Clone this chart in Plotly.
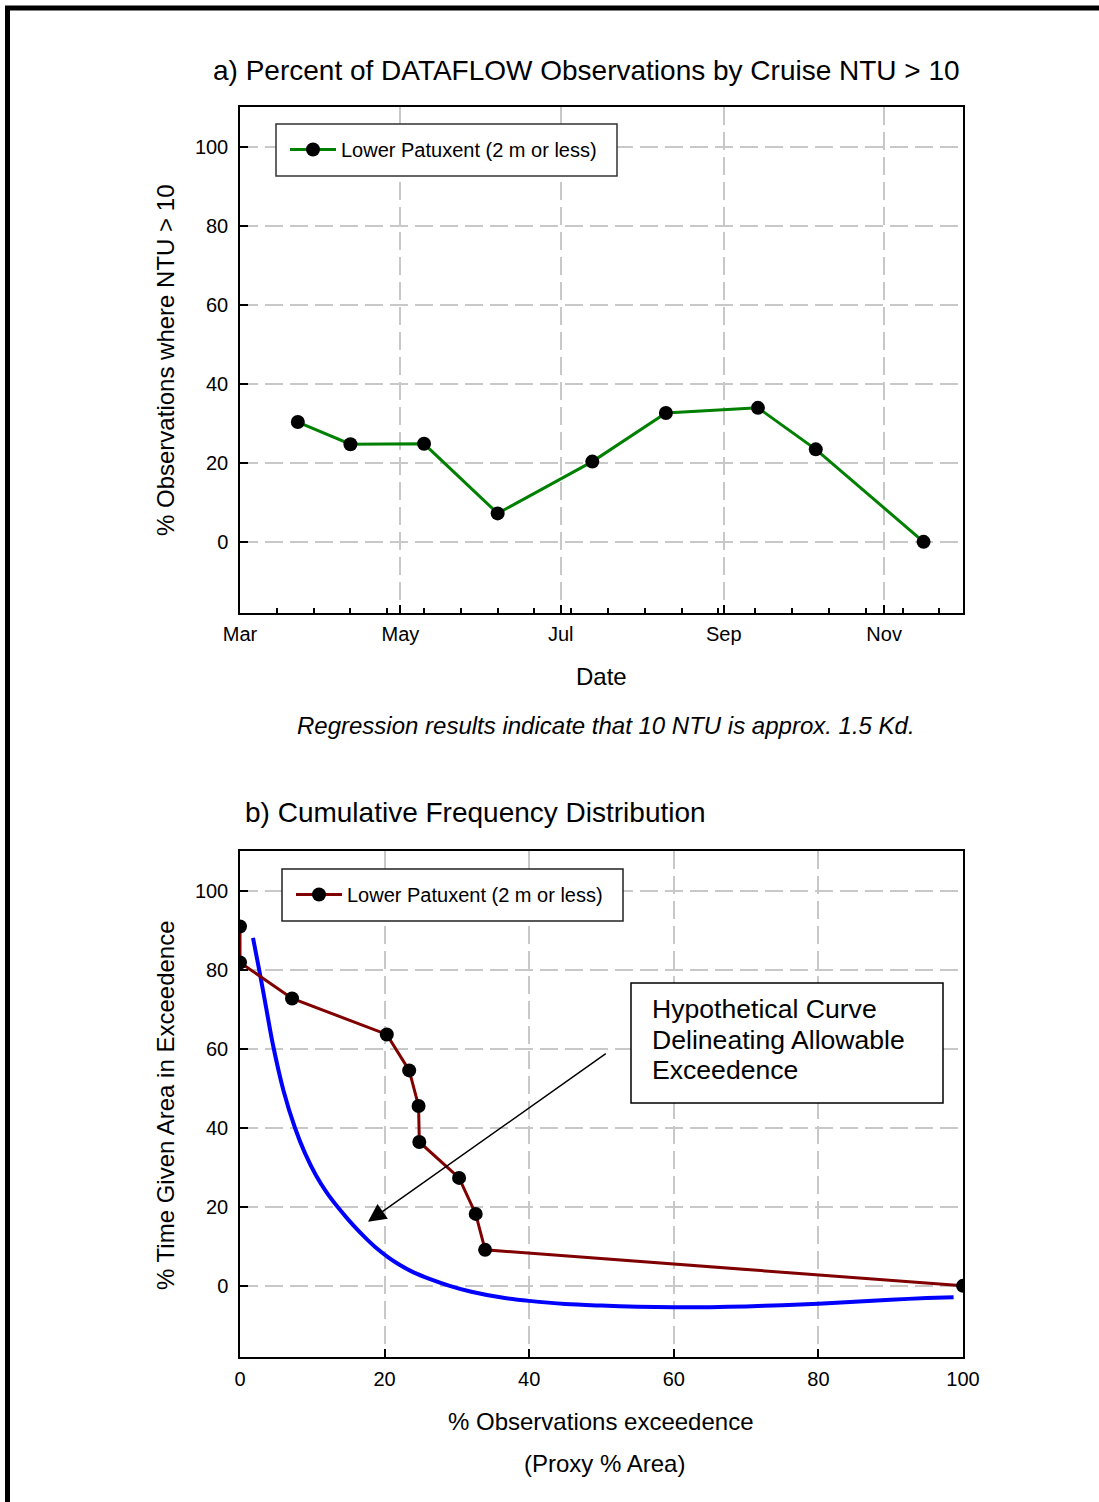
import plotly.graph_objects as go
from plotly.subplots import make_subplots

# ---- panel a: percent of observations per cruise with NTU > 10 ----
cruise_dates = ["2001-03-23", "2001-04-12", "2001-05-10", "2001-06-07", "2001-07-13",
                "2001-08-10", "2001-09-14", "2001-10-06", "2001-11-16"]
pct_ntu_over_10 = [30.3, 24.7, 24.8, 7.2, 20.3, 32.6, 33.9, 23.4, 0.0]

# ---- panel b: cumulative frequency distribution ----
obs_exceedence = [0.0, 0.0, 7.2, 20.3, 23.4, 24.7, 24.8, 30.3, 32.6, 33.9, 100.0]
time_exceedence = [90.9, 81.8, 72.7, 63.6, 54.5, 45.5, 36.4, 27.3, 18.2, 9.1, 0.0]

# hypothetical allowable-exceedence curve
curve_x = [1.8, 2.7, 3.6, 4.5, 6.0, 7.6, 9.0, 10.5, 12.0, 13.8, 15.0, 16.4, 17.6,
           18.9, 20.5, 22.0, 24.0, 26.3, 29.0, 32.0, 36.0, 40.0, 45.0, 50.0, 55.0,
           60.0, 65.0, 70.0, 75.0, 80.0, 85.0, 90.0, 95.0, 98.7]
curve_y = [88.0, 79.5, 70.5, 61.5, 49.5, 40.0, 33.5, 28.0, 23.6, 19.3, 16.7, 13.9, 11.7,
           9.5, 7.2, 5.4, 3.4, 1.7, 0.0, -1.5, -2.9, -3.8, -4.6, -5.0, -5.3,
           -5.4, -5.4, -5.2, -4.9, -4.5, -4.0, -3.5, -3.1, -2.9]

series_name = "Lower Patuxent (2 m or less)"

W, H = 1099, 1502
FONT = "Liberation Sans, Arial, Helvetica, sans-serif"


def px(x):
    return x / W


def py(y):
    return 1 - y / H


fig = make_subplots(rows=2, cols=1)

fig.add_trace(go.Scatter(
    x=cruise_dates, y=pct_ntu_over_10, mode="lines+markers", name=series_name,
    line=dict(color="#008000", width=3),
    marker=dict(color="black", size=14),
    legend="legend",
), row=1, col=1)

fig.add_trace(go.Scatter(
    x=curve_x, y=curve_y, mode="lines", showlegend=False,
    line=dict(color="#0000ff", width=4, shape="spline", smoothing=0.8),
), row=2, col=1)

fig.add_trace(go.Scatter(
    x=obs_exceedence, y=time_exceedence, mode="lines+markers", name=series_name,
    line=dict(color="#800000", width=3),
    marker=dict(color="black", size=14),
    legend="legend2",
), row=2, col=1)

grid = dict(showgrid=True, gridcolor="#c8c8c8", gridwidth=1.5, griddash="18px,7px")
frame = dict(showline=True, linecolor="black", linewidth=1.5, mirror=True,
             ticks="inside", ticklen=8, tickwidth=1.5, tickcolor="black",
             tickfont=dict(family=FONT, size=20, color="black"), zeroline=False)

fig.update_xaxes(
    type="date", range=["2001-03-01", "2001-12-01"],
    dtick="M2", tick0="2001-03-01", tickformat="%b",
    minor=dict(dtick=14 * 86400000, tick0="2001-03-01", ticks="inside",
               ticklen=5, tickwidth=1.5, tickcolor="black", showgrid=False),
    ticklabelstandoff=2,
    domain=[px(240), px(963)],
    **grid, **frame, row=1, col=1)
fig.update_yaxes(range=[-18, 110], tickvals=[0, 20, 40, 60, 80, 100],
                 domain=[py(613), py(107)], ticklabelstandoff=6,
                 **grid, **frame, row=1, col=1)

fig.update_xaxes(range=[0, 100], tickvals=[0, 20, 40, 60, 80, 100],
                 domain=[px(240), px(963)], ticklabelstandoff=3,
                 **grid, **frame, row=2, col=1)
fig.update_yaxes(range=[-18, 110], tickvals=[0, 20, 40, 60, 80, 100],
                 domain=[py(1357), py(851)], ticklabelstandoff=6,
                 **grid, **frame, row=2, col=1)

legend_style = dict(
    bgcolor="rgba(0,0,0,0)", borderwidth=0, itemwidth=46,
    font=dict(family=FONT, size=20, color="black"),
    xanchor="left", yanchor="top",
)

annotations = []


def label(text, x, y, size, anchor="center", angle=0):
    annotations.append(dict(
        text=text, x=px(x), y=py(y), xref="paper", yref="paper",
        showarrow=False, xanchor=anchor, yanchor="middle", textangle=angle,
        font=dict(family=FONT, size=size, color="black"),
    ))


label("a) Percent of DATAFLOW Observations by Cruise NTU &gt; 10", 586, 70, 28)
label("% Observations where NTU &gt; 10", 165, 361, 24, angle=-90)
label("Date", 601, 677, 24)
label("<i>Regression results indicate that 10 NTU is approx. 1.5 Kd.</i>", 606, 725, 24)
label("b) Cumulative Frequency Distribution", 243, 812, 28, anchor="left")
label("% Time Given Area in Exceedence", 165, 1105, 24, angle=-90)
label("% Observations exceedence", 601, 1421, 24)
label("(Proxy % Area)", 604, 1463, 24)
label("Hypothetical Curve", 650, 1009, 26.6, anchor="left")
label("Delineating Allowable", 650, 1040, 26.6, anchor="left")
label("Exceedence", 650, 1070, 26.6, anchor="left")

# arrow pointing at the hypothetical curve
annotations.append(dict(
    x=17.7, y=16.2, ax=50.8, ay=59.0, xref="x2", yref="y2", axref="x2", ayref="y2",
    text="", showarrow=True, arrowhead=2, arrowsize=2.4, arrowwidth=1.5,
    arrowcolor="black", standoff=0,
))


def box(x0, y0, x1, y1, color="black"):
    return dict(type="rect", xref="paper", yref="paper",
                x0=px(x0), x1=px(x1), y0=py(y1), y1=py(y0),
                line=dict(color=color, width=1.5), fillcolor="white", layer="above")


shapes = [
    # legend frames
    box(276, 124, 617, 176, "#333333"),
    box(282, 869, 623, 921, "#222222"),
    # frame around the hypothetical-curve note
    box(631, 983, 943, 1103),
    # page frame (top and left edges)
    dict(type="line", xref="paper", yref="paper",
         x0=px(5), x1=1, y0=py(8), y1=py(8), line=dict(color="black", width=5)),
    dict(type="line", xref="paper", yref="paper",
         x0=px(7.5), x1=px(7.5), y0=py(6), y1=0, line=dict(color="black", width=5)),
]

fig.update_layout(
    width=W, height=H,
    margin=dict(l=0, r=0, t=0, b=0, autoexpand=False),
    paper_bgcolor="white", plot_bgcolor="white",
    font=dict(family=FONT, color="black"),
    showlegend=True,
    legend=dict(x=px(285), y=py(130), **legend_style),
    legend2=dict(x=px(291), y=py(875), **legend_style),
    annotations=annotations,
    shapes=shapes,
)

fig.write_html("out.html")
